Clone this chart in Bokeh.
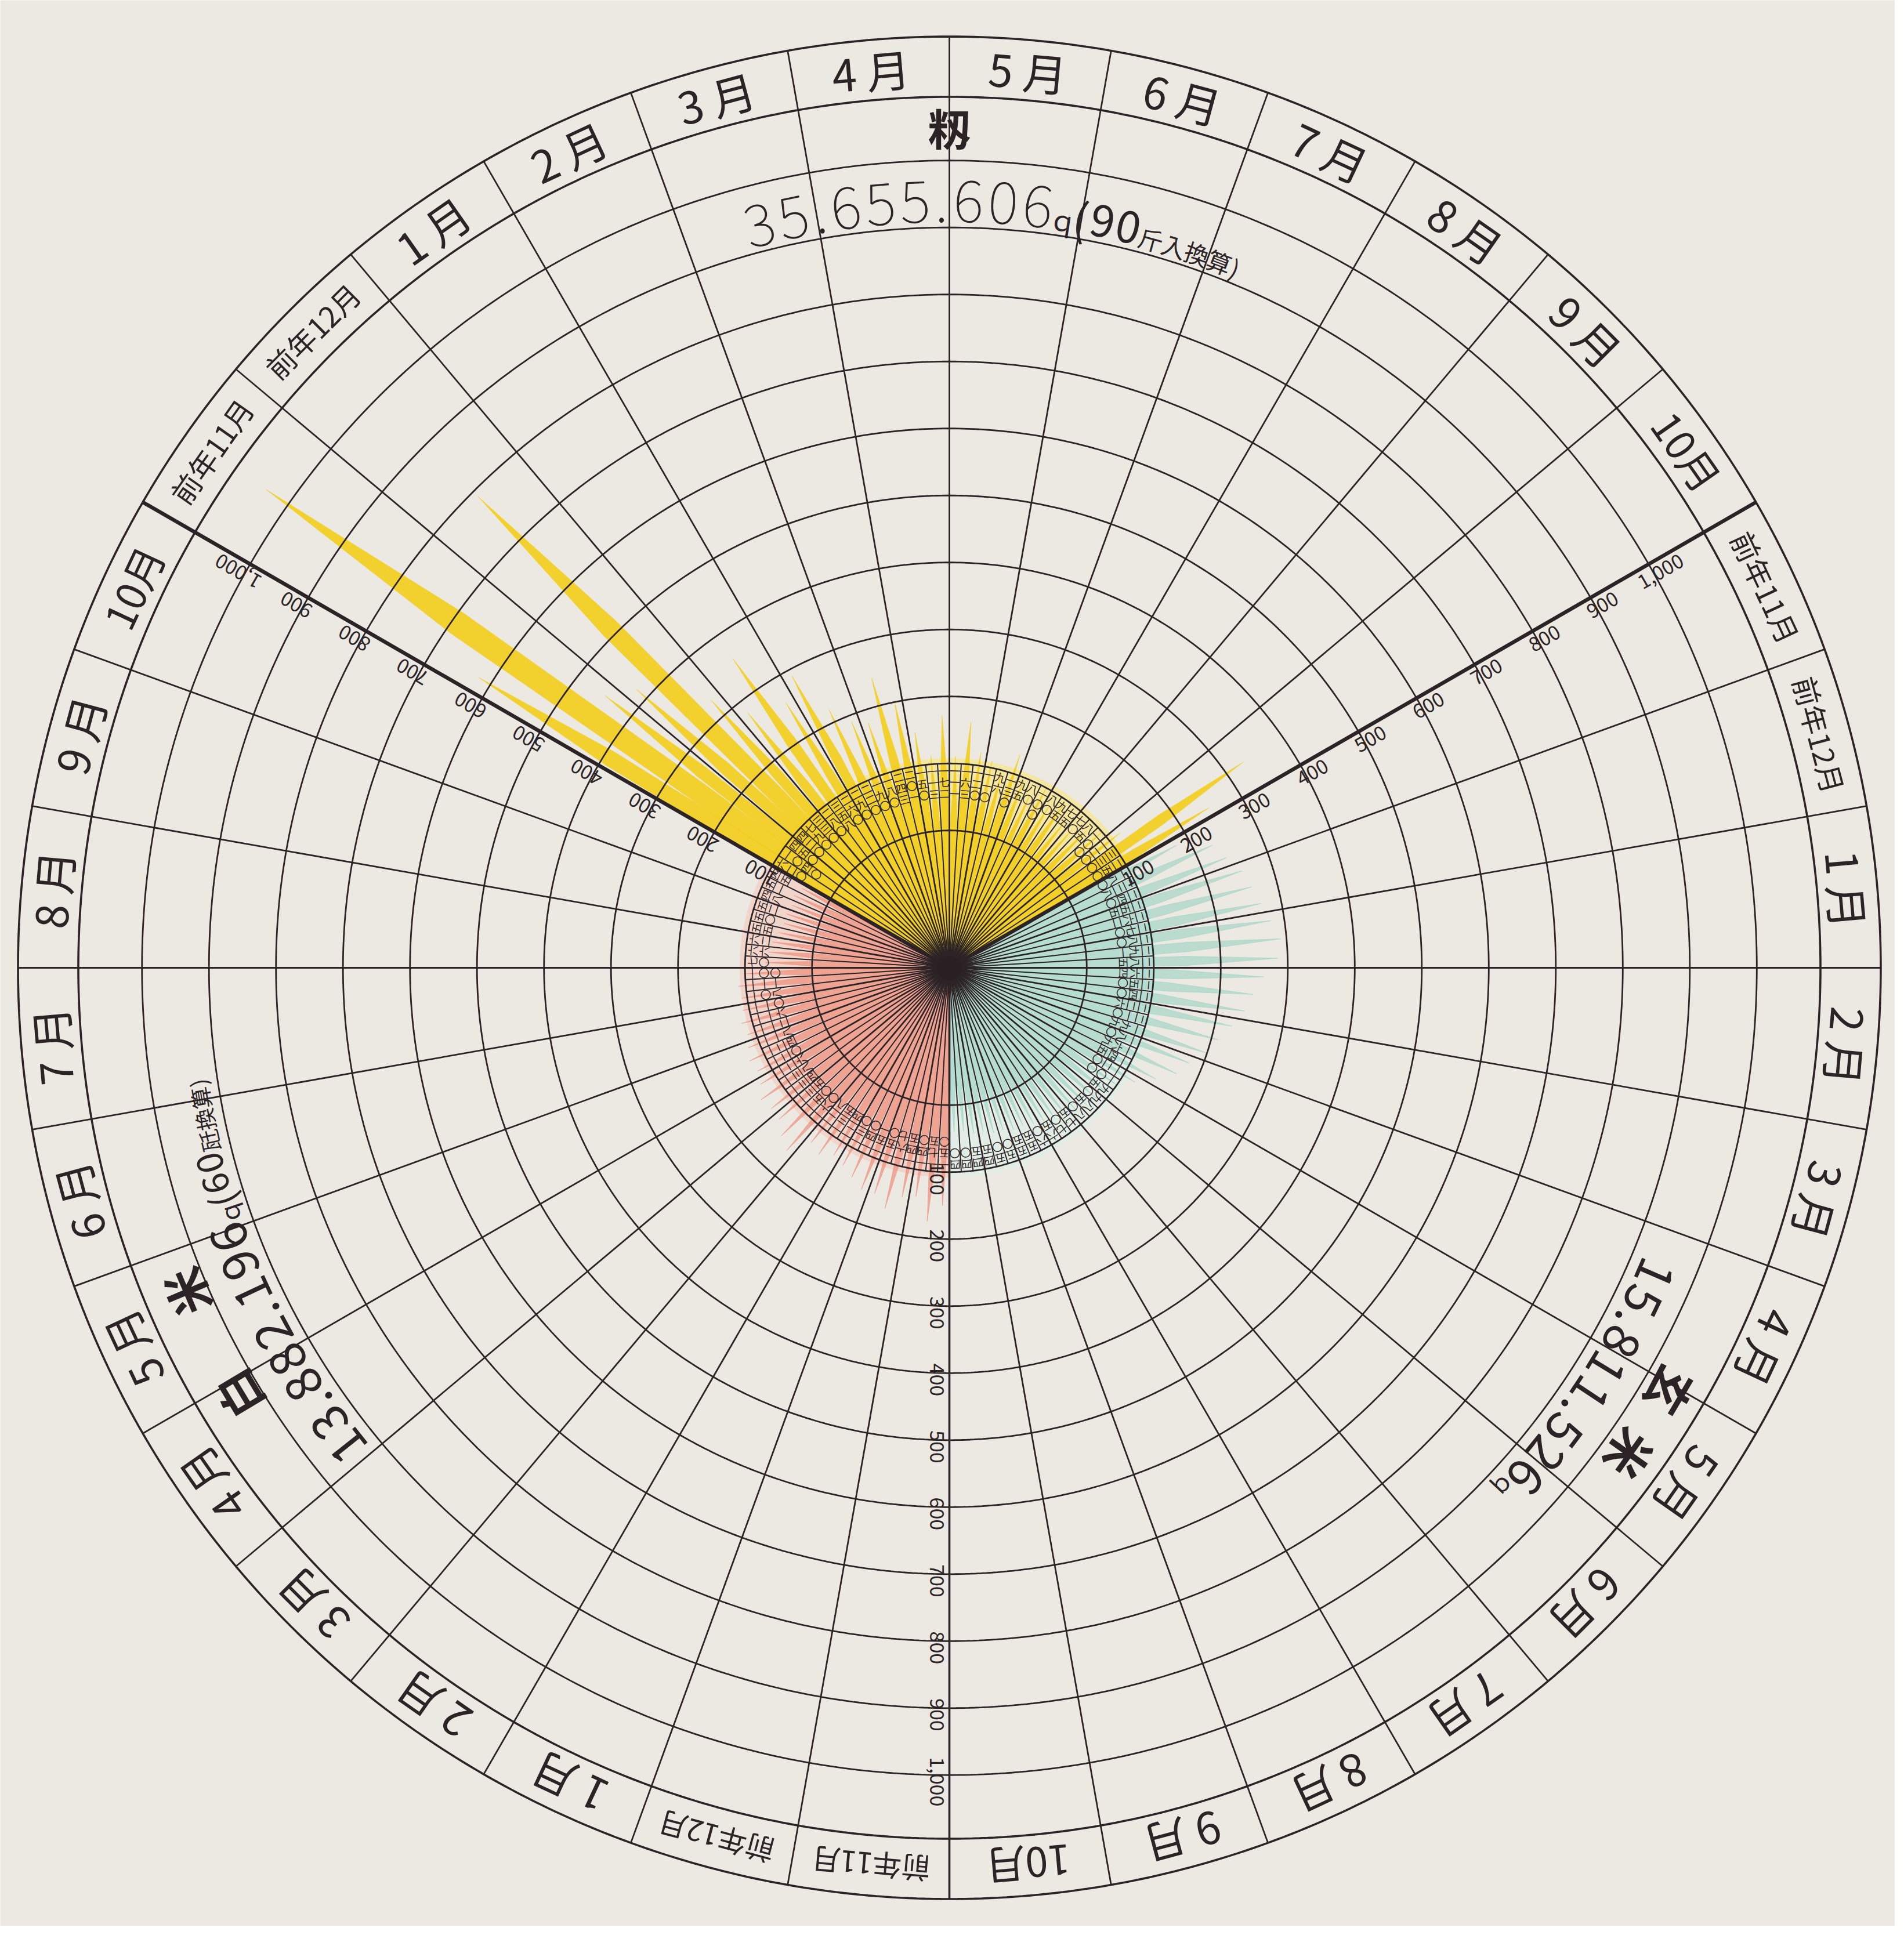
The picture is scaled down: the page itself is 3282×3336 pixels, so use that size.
import math
from bokeh.plotting import figure
from bokeh.models import Range1d, ColumnDataSource
from bokeh.embed import file_html
from bokeh.resources import INLINE
from bokeh.core.properties import value, field

# ---------------- data ----------------
month_labels = ["前年11月", "前年12月", "1 月", "2 月", "3 月", "4 月",
                "5 月", "6 月", "7 月", "8 月", "9 月", "10月"]

# values per ten-day period (上旬・中旬・下旬), 前年11月上旬 ... 10月下旬
paddy = [620, 1040, 450, 420, 790, 330, 280, 358, 260, 290, 220, 190,
         180, 243, 201, 150, 113, 172, 111, 163, 120, 110, 96, 130,
         95, 80, 100, 80, 95, 75, 70, 85, 100, 120, 330, 250]
brown = [180, 228, 240, 255, 262, 270, 280, 291, 285, 264, 250, 240,
         226, 210, 199, 180, 169, 145, 120, 100, 95, 90, 85, 80,
         75, 70, 65, 60, 55, 55, 50, 50, 45, 45, 40, 40]
white = [150, 175, 140, 145, 167, 150, 151, 140, 130, 124, 135, 128,
         160, 150, 135, 134, 138, 126, 120, 124, 118, 112, 116, 110,
         108, 111, 100, 70, 66, 62, 55, 50, 52, 48, 51, 45]

tick_values = [100, 200, 300, 400, 500, 600, 700, 800, 900, 1000]
tick_labels = ["100", "200", "300", "400", "500", "600", "700", "800", "900", "1,000"]

names = ["籾", "玄米", "白米"]
totals = ["35.655.606", "15.811.526", "13.882.196"]
unit_mark = "ｑ"
notes_num = ["(90", "", "(60"]
notes_txt = ["斤入換算)", "", "瓩換算)"]

# ---------------- layout ----------------
W, H = 3266, 3320
PX = 1.155            # screen px per radial unit
CX, CY = 1636, 1668   # centre in figure px
R0 = 205              # radius of the zero line (inner label zone)
R_CELL = R0 + 100
R_IN, R_OUT = 1300, 1390
SECTOR_START = [150, 30, -90]   # each sector runs clockwise 120 deg
SERIES = [paddy, brown, white]

BG = "#ece9e2"
INK = "#2b2326"
FONT = "Noto Sans CJK JP"
SPIKE_COL = ["#f2cd16", "#93cfc0", "#ee8a78"]
SPIKE_ALPHA = [0.88, 0.55, 0.68]
PALE_COL = ["#f5e79a", "#e0ede5", "#f2d3c9"]


def pol(r, deg):
    a = math.radians(deg)
    return r * math.cos(a), r * math.sin(a)


def kanji(v):
    return "".join("〇一二三四五六七八九"[int(d)] for d in str(int(round(v))))


p = figure(width=W, height=H,
           x_range=Range1d(-CX / PX, (W - CX) / PX),
           y_range=Range1d(-(H - CY) / PX, CY / PX),
           output_backend="svg", toolbar_location=None, min_border=0,
           background_fill_color=BG, border_fill_color=BG,
           outline_line_color=None)
p.xaxis.visible = False
p.yaxis.visible = False
p.xgrid.visible = False
p.ygrid.visible = False

# pale label-zone tints
for s in range(3):
    st = SECTOR_START[s]
    p.wedge(x=[0], y=[0], radius=R_CELL + 8,
            start_angle=math.radians(st - 120), end_angle=math.radians(st),
            fill_color=PALE_COL[s], fill_alpha=0.9, line_color=None)

# spikes
for s in range(3):
    st = SECTOR_START[s]
    xs, ys = [], []
    for k, v in enumerate(SERIES[s]):
        th = st - (k + 0.5) * 10.0 / 3.0
        r = R0 + v
        d = 1.9
        pts = [(0, th), (0.36 * r, th + d), (0.72 * r, th + 0.6 * d), (r, th),
               (0.72 * r, th - 0.6 * d), (0.36 * r, th - d)]
        xx, yy = zip(*[pol(rr, tt) for rr, tt in pts])
        xs.append(list(xx))
        ys.append(list(yy))
    p.patches(xs=xs, ys=ys, fill_color=SPIKE_COL[s], fill_alpha=SPIKE_ALPHA[s],
              line_color=SPIKE_COL[s], line_alpha=0.5, line_width=1)

# grid circles
def circle_pts(r):
    ts = [i * 0.5 for i in range(721)]
    return [r * math.cos(math.radians(t)) for t in ts], [r * math.sin(math.radians(t)) for t in ts]

cx_list, cy_list = [], []
for k in range(11):
    a, b = circle_pts(R0 + 100 * k)
    cx_list.append(a)
    cy_list.append(b)
p.multi_line(xs=cx_list, ys=cy_list, line_color=INK, line_width=2.8)
rx, ry = [], []
for r in (R_IN, R_OUT):
    a, b = circle_pts(r)
    rx.append(a)
    ry.append(b)
p.multi_line(xs=rx, ys=ry, line_color=INK, line_width=3.6)

# radial month lines
mx, my = [], []
for i in range(36):
    ang = i * 10
    if ang in (30, 150):
        continue
    x1, y1 = pol(R_OUT, ang)
    mx.append([0, x1])
    my.append([0, y1])
p.multi_line(xs=mx, ys=my, line_color=INK, line_width=2.8)
# sub (ten-day) lines in label zone
sx, sy = [], []
for s in range(3):
    st = SECTOR_START[s]
    for m in range(12):
        for j in (1, 2):
            ang = st - 10 * m - j * 10.0 / 3.0
            x1, y1 = pol(R_CELL, ang)
            sx.append([0, x1])
            sy.append([0, y1])
p.multi_line(xs=sx, ys=sy, line_color=INK, line_width=2.0)
# sector boundaries
bx, by = [], []
for ang in (150, 30):
    x1, y1 = pol(R_OUT, ang)
    bx.append([0, x1])
    by.append([0, y1])
p.multi_line(xs=bx, ys=by, line_color=INK, line_width=6.5)
x1, y1 = pol(R_OUT, -90)
p.line(x=[0, x1], y=[0, y1], line_color=INK, line_width=3.6)

# centre blob
p.circle(x=[0], y=[0], radius=18, fill_color="#2a2024", line_color=None)

# ---------- texts ----------
def add_text(src, bold=False, color=INK):
    p.text(x="x", y="y", text="t", angle="a", source=ColumnDataSource(src),
           text_font=value(FONT), text_font_size=field("fs"),
           text_font_style="bold" if bold else "normal",
           text_align="center", text_baseline="middle", text_color=color)

# ring month labels
ring = dict(x=[], y=[], t=[], a=[], fs=[])
for s in range(3):
    st = SECTOR_START[s]
    for m, lab in enumerate(month_labels):
        th = st - 10 * m - 5
        x, y = pol((R_IN + R_OUT) / 2, th)
        ring["x"].append(x)
        ring["y"].append(y)
        ring["t"].append(lab)
        ring["a"].append(math.radians(th - 90))
        ring["fs"].append("50px" if lab.startswith("前年") else ("70px" if lab == "10月" else "76px"))
add_text(ring)

# axis tick labels
tk = dict(x=[], y=[], t=[], a=[], fs=[])
for ang, side in ((150, 1), (30, -1), (-90, -1)):
    for v, lab in zip(tick_values, tick_labels):
        r = R0 + v + 10
        x, y = pol(r, ang)
        ox, oy = pol(18, ang + 90 * side)
        tk["x"].append(x + ox)
        tk["y"].append(y + oy)
        tk["t"].append(lab)
        tk["a"].append(math.radians(ang))
        tk["fs"].append("34px")
add_text(tk)

# kanji value labels along each spike
kj = dict(x=[], y=[], t=[], a=[], fs=[])
for s in range(3):
    st = SECTOR_START[s]
    for k, v in enumerate(SERIES[s]):
        th = st - (k + 0.5) * 10.0 / 3.0
        for i, ch in enumerate(kanji(v)):
            x, y = pol(R_CELL - 10 - 17 * i, th)
            kj["x"].append(x)
            kj["y"].append(y)
            kj["t"].append(ch)
            kj["a"].append(math.radians(th - 90))
            kj["fs"].append("19px")
add_text(kj, color="#2f2627")

# curved totals
def char_w(ch, fs):
    if ch in ".,":
        f = 0.32
    elif ch in "()":
        f = 0.4
    elif ch.isdigit():
        f = 0.6
    elif ch == "ｑ":
        f = 0.62
    else:
        f = 1.0
    return f * fs


def arc_text(segments, r, center_deg, bold=False):
    chars = []
    for txt, fs in segments:
        for ch in txt:
            chars.append((ch, fs))
    maxfs = max(fs for _, fs in chars)
    widths = [char_w(ch, fs) / PX for ch, fs in chars]
    total = sum(widths) / r
    cur = math.radians(center_deg) + total / 2
    d = dict(x=[], y=[], t=[], a=[], fs=[])
    for (ch, fs), w in zip(chars, widths):
        a = cur - (w / 2) / r
        cur -= w / r
        rr = r - (maxfs - fs) * 0.32 / PX
        d["x"].append(rr * math.cos(a))
        d["y"].append(rr * math.sin(a))
        d["t"].append(ch)
        d["a"].append(a - math.pi / 2)
        d["fs"].append(f"{fs}px")
    add_text(d, bold=bold)

arc_text([(totals[0], 100), (unit_mark, 48), (notes_num[0], 76), (notes_txt[0], 42)], 1145, 86.5)
arc_text([(totals[1], 86), (unit_mark, 42)], 1148, -33)
arc_text([(totals[2], 86), (unit_mark, 42), (notes_num[2], 62), (notes_txt[2], 38)], 1148, -156)

# sector titles
arc_text([(names[0], 74)], 1255, 90, bold=True)
arc_text([(names[1][0], 80), ("　", 50), (names[1][1], 80)], 1250, -33, bold=True)
arc_text([(names[2][0], 80), ("　", 120), (names[2][1], 80)], 1250, -153, bold=True)

open("out.html", "w").write(file_html(p, INLINE))
